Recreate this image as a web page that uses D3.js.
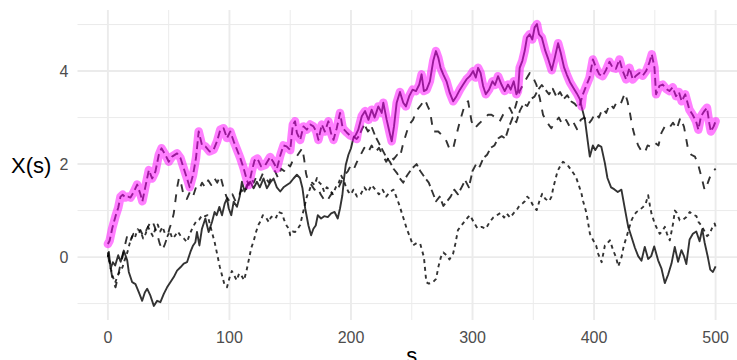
<!DOCTYPE html>
<html>
<head>
<meta charset="utf-8">
<script src="https://cdn.jsdelivr.net/npm/d3@7"></script>
<style>
  body { margin: 0; background: #fff; }
  svg { display: block; font-family: "Liberation Sans", Arial, sans-serif; }
</style>
</head>
<body>
<svg width="737" height="360"></svg>
<script>
/* --------------- Datos: [s, X(s)] --------------- */
const serieA = [ // linea continua
  [0,0.0],[0.8,0.11],[2.2,-0.25],[4.1,-0.11],[6,-0.18],[8.5,0.04],[10.5,-0.1],[13.1,0.14],[15.9,-0.07],[17.2,-0.32],
  [20,-0.54],[22.7,-0.58],[25.5,-0.76],[28.2,-0.94],[30.4,-0.76],[32.3,-0.68],[35,-0.83],[37.8,-1.05],[40.5,-0.94],[43.2,-0.97],
  [46,-0.79],[48.7,-0.65],[51.4,-0.54],[54.2,-0.43],[56.9,-0.29],[59.7,-0.22],[62.4,-0.14],[65.1,-0.11],[67.9,0.11],[70.1,0.25],
  [72,0.32],[73.3,0.54],[75.3,0.25],[77.4,0.61],[80.2,0.83],[82.9,0.54],[85.7,0.76],[87.8,0.97],[89.5,0.9],[91.7,1.08],
  [93.9,0.9],[96.1,1.15],[98,1.26],[99.4,1.05],[101.5,0.9],[103.5,1.19],[106.2,1.08],[108.4,1.3],[110.3,1.62],[112.5,1.41],
  [114.4,1.55],[117.1,1.62],[119.9,1.48],[122.6,1.62],[125,1.5],[128.1,1.69],[130.8,1.48],[133.5,1.6],[136.3,1.69],[139,1.5],
  [141.8,1.41],[144.5,1.5],[147.2,1.55],[150,1.6],[152.7,1.69],[155.5,1.77],[158,1.7],[160.1,1.48],[162.3,1.05],[165,0.68],
  [167.2,0.47],[169.1,0.61],[171,0.68],[172.7,0.9],[175.4,0.83],[178,0.88],[180.9,0.86],[183.7,0.94],[186.5,0.97],[189.1,0.83],
  [191,1.05],[192.9,1.33],[194.3,1.69],[195.7,1.98],[197.9,2.2],[200,2.34],[202,2.56],[204,2.63],[206,2.74],[208.9,3.03],
  [211.6,3.14],[214.4,2.95],[217,3.17],[219.5,3.0],[222.5,3.24],[225.3,3.1],[226.6,3.32],[229.4,2.95],[232.2,2.63],[233.5,2.49],
  [235.4,2.81],[237.6,3.32],[240.3,3.55],[243,3.32],[245.2,3.24],[247.9,3.46],[250.7,3.6],[253.5,3.57],[256.2,3.71],[258.1,3.93],
  [260,3.57],[262.2,3.6],[264.9,3.78],[267.7,4.22],[269.9,4.43],[271.8,4.29],[273.7,4.07],[275.9,3.93],[278.6,3.78],[281.3,3.53],
  [284.1,3.35],[286.8,3.46],[289.6,3.6],[292.3,3.71],[295,3.82],[297.8,3.89],[300.5,4.0],[302.7,3.86],[304.6,4.07],[306.6,3.96],
  [308.7,3.68],[310.9,3.5],[313.6,3.6],[316.4,3.78],[318.5,3.7],[321,3.89],[323.8,3.71],[326.5,3.57],[329.2,3.71],[331.4,3.6],
  [333.9,3.78],[336.1,3.5],[337.4,3.57],[338.8,4.07],[341,4.22],[342.9,4.43],[344.8,4.72],[347,4.79],[349.2,4.68],[351.1,4.94],
  [353,5.01],[354.7,4.79],[357,4.72],[359.7,4.45],[362.4,4.25],[365.2,4.02],[367.8,4.3],[370.4,4.6],[372.5,4.4],[375.3,4.08],
  [377.6,3.92],[380.2,3.76],[383.4,3.62],[385.8,3.52],[388.4,3.39],[389.7,3.24],[392.5,2.95],[395,2.45],[396.5,2.16],[399,2.4],
  [401,2.3],[403.5,2.41],[406,2.37],[408.9,2.02],[411,1.7],[414,1.5],[416.5,1.46],[419.5,1.4],[422.5,1.45],[425.4,1.03],
  [428.1,0.65],[430.8,0.43],[433.6,0.2],[436.3,0.02],[439,-0.08],[441.7,0.22],[444.5,-0.04],[447,0.02],[449.5,0.23],[452.7,-0.07],
  [455.5,-0.25],[458.2,-0.56],[460.9,-0.38],[463.7,-0.14],[466.4,0.22],[469.1,-0.1],[471.9,0.15],[474,0.02],[475.9,-0.15],[478.6,0.38],
  [481.3,0.5],[484.1,0.55],[486.8,0.34],[489,0.6],[490.9,0.32],[493.6,0.0],[495.6,-0.27],[497.8,-0.32],[500,-0.2]
];

const serieB = [ // guiones largos
  [0,0.28],[1.4,0.35],[3.6,0.62],[6.3,0.88],[8.5,1.06],[10.4,1.3],[12.2,1.34],[14.5,1.28],[16.5,1.3],[18.6,1.28],
  [21.3,1.4],[24.1,1.56],[26.8,1.35],[28.4,1.2],[30.9,1.52],[33.7,1.87],[36.4,1.69],[39.1,1.84],[41.9,2.2],[44.1,2.34],
  [47.3,2.2],[50.1,2.05],[52.8,2.16],[56.9,2.23],[59.7,2.13],[62.4,1.91],[65.1,1.69],[67.3,1.5],[70.1,1.77],[72.5,2.13],
  [74.7,2.7],[77.4,2.41],[80.2,2.38],[83.7,2.27],[87,2.31],[89.8,2.49],[92.5,2.74],[95.2,2.77],[98,2.56],[100.7,2.7],
  [103.5,2.49],[106.2,2.31],[108.9,2.13],[111.7,1.91],[114.4,1.65],[116,1.55],[118.5,1.86],[120.7,2.08],[123,2.12],[126,1.95],
  [129.5,1.98],[133.5,2.15],[136,2.05],[139,1.9],[142,2.2],[144.5,2.4],[147,2.38],[150,2.3],[152.2,2.85],[154,2.92],
  [155.5,2.67],[158.2,2.52],[160.9,2.81],[163.7,2.74],[166.5,2.85],[169.1,2.81],[171.5,2.7],[173.2,2.52],[176,2.85],[178.5,2.7],
  [181.4,2.92],[183.5,2.67],[185.6,2.52],[188.3,2.77],[191,3.1],[193.2,2.77],[196.5,2.68],[199,2.62],[202,2.59],[204.7,2.54],
  [207,2.62],[209,2.75],[211,2.85],[214,2.7],[217,2.8],[220,2.6],[223,2.45],[226,2.3],[229,2.15],[232,2.05],
  [235,1.9],[238,1.8],[240,1.7],[243,1.6],[246,1.75],[250,1.9],[254,2.0],[257,1.85],[261,1.7],[264,1.6],
  [267,1.4],[270,1.2],[273,1.3],[276,1.1],[279,1.2],[282,1.3],[285,1.45],[288,1.35],[291,1.5],[294,1.65],
  [297,1.5],[300,1.85],[303,2.0],[306,1.95],[309,2.13],[312,2.2],[315,2.35],[318,2.4],[321,2.55],[324,2.6],
  [327,2.55],[330,2.8],[333,3.0],[336,2.9],[339,3.15],[342,3.3],[345,3.25],[348,3.4],[351,3.45],[354,3.6],
  [357,3.7],[360,3.6],[363,3.5],[366,3.62],[369,3.45],[372,3.55],[375,3.4],[378,3.48],[381,3.35],[384,3.3],
  [386.5,3.22],[388.4,3.28],[390.8,3.5],[393.5,3.68],[396.3,3.86],[399,4.25],[401.7,4.07],[404.3,3.93],[407,3.89],[409.8,4.02],
  [412.7,4.2],[415.4,4.07],[418,4.05],[420.9,4.25],[423.6,4.0],[426.4,3.82],[429.1,4.07],[431.8,3.82],[434.5,3.9],[437.3,3.96],
  [440,3.9],[442.8,4.0],[445.5,4.18],[447.5,4.36],[449.7,4.07],[451,3.5],[453.8,3.68],[456.5,3.71],[459.2,3.62],[462,3.57],
  [464.7,3.65],[467.4,3.46],[469.8,3.55],[472.1,3.35],[475,3.5],[478.4,3.17],[481.1,3.06],[483.9,2.92],[485.8,2.74],[488,3.03],
  [490.7,3.14],[492.9,3.21],[494.8,2.88],[496.1,2.7],[498.4,2.81],[500,2.92]
];

const serieC = [ // guiones
  [0,0.05],[2.2,-0.22],[4,-0.5],[6.3,-0.65],[8,-0.45],[10,-0.2],[12,0.0],[14,0.25],[16,0.47],[18.5,0.35],
  [21,0.5],[24,0.45],[26.8,0.58],[29,0.45],[32,0.6],[34,0.7],[36.4,0.79],[38.5,0.65],[40.5,0.5],[42.5,0.3],
  [44.7,0.15],[46.5,0.25],[48.5,0.4],[50.5,0.6],[52.5,0.75],[54.2,0.94],[55.5,1.2],[57,1.5],[58.5,1.7],[60.5,1.55],
  [62.5,1.3],[65,1.25],[67.5,1.4],[70,1.3],[72.5,1.5],[75,1.45],[77.5,1.6],[80,1.5],[82.5,1.65],[85,1.55],
  [87.5,1.7],[90,1.6],[92.5,1.75],[95,1.5],[97.5,1.3],[100,1.2],[102.5,1.35],[105,1.2],[107.5,1.3],[110,1.45],
  [112.5,1.35],[115,1.55],[117.5,1.7],[120,1.6],[122.5,1.75],[125,1.65],[127.5,1.8],[130,1.7],[132.5,1.6],[135,1.75],
  [137.5,1.85],[140,1.7],[142.5,1.9],[145,1.85],[147.5,2.0],[150,1.95],[152.5,2.1],[155,2.15],[157.5,2.25],[160,2.34],
  [161.5,2.1],[163,1.8],[165,1.6],[167.5,1.55],[170,1.45],[172.5,1.5],[175,1.35],[177.5,1.25],[180,1.19],[182.5,1.3],
  [185,1.4],[187.5,1.45],[190,1.51],[192.5,1.65],[195,1.77],[197.5,1.85],[200,1.98],[202.5,1.9],[205,2.05],[208,2.2],
  [211,2.35],[214,2.25],[217,2.4],[220,2.25],[223,2.35],[226,2.2],[229,2.05],[232,2.2],[235,2.1],[238,2.2],
  [240.3,2.15],[243,2.45],[246,2.7],[248,2.85],[251,2.95],[254,3.15],[257,3.25],[260.8,3.39],[263,3.25],[265,3.14],
  [267.7,2.7],[271.8,2.7],[275.9,2.59],[278.6,2.49],[281.3,2.31],[284.1,2.34],[286.8,2.63],[289.6,2.92],[293.7,3.28],[296.4,3.35],
  [299.2,2.92],[301.9,2.77],[304.6,2.85],[307.4,2.92],[310.1,2.99],[312.8,3.06],[315.6,3.06],[319.7,2.99],[322.4,2.92],[325.1,3.06],
  [327.9,3.14],[330.6,3.21],[333.3,3.06],[336,3.3],[338.8,3.57],[343,3.78],[347.1,3.96],[349.9,3.86],[352.5,3.71],[355.3,3.42],
  [358,3.06],[360.7,2.92],[364.8,2.77],[368,2.9],[371,3.0],[374,2.85],[377,2.95],[380,2.8],[383,2.9],[386,2.75],
  [389,2.95],[392,3.0],[395,2.85],[398,2.95],[401,3.1],[404,3.0],[407,3.2],[410,3.1],[413,3.3],[416,3.2],
  [419,3.35],[422,3.3],[425.4,3.53],[427.5,3.35],[429.5,3.1],[431.5,2.8],[433.5,2.6],[436.3,2.4],[438.5,2.3],[441.7,2.24],
  [444,2.4],[447,2.37],[450,2.46],[453,2.4],[455.4,2.67],[458,2.8],[461,2.75],[465,2.89],[468,2.75],[471,3.0],
  [474,2.8],[477,2.37],[480,2.2],[483,2.16],[485.5,2.0],[488.3,1.73],[491,1.44],[493.5,1.59],[496.4,1.8],[500,1.9]
];

const serieD = [ // guiones cortos
  [0,0.1],[2,-0.2],[4,-0.42],[6,-0.55],[8,-0.4],[10,-0.3],[12,-0.22],[14,-0.05],[16,0.1],[18,0.3],
  [20,0.45],[22,0.4],[24.5,0.6],[27,0.55],[29,0.4],[31,0.5],[33,0.65],[35,0.55],[37,0.45],[39,0.6],
  [41,0.7],[43,0.55],[45,0.65],[47,0.5],[49,0.45],[51,0.55],[53,0.4],[55,0.45],[57.5,0.55],[60,0.45],
  [62.5,0.4],[65,0.32],[67.5,0.5],[70,0.65],[72.5,0.76],[75,0.8],[77.5,0.9],[80,0.88],[82,0.9],[84,0.7],
  [86,0.5],[88,0.3],[90,0.05],[92,-0.2],[94,-0.4],[96,-0.6],[98,-0.65],[100,-0.45],[102,-0.3],[104,-0.4],
  [106,-0.5],[108,-0.35],[110,-0.4],[112,-0.5],[114,-0.3],[116,-0.05],[118,0.2],[120,0.35],[122,0.55],[124,0.7],
  [125.3,0.76],[127.5,0.9],[130,0.85],[132.5,0.75],[134,0.85],[136.3,0.9],[138.5,0.85],[140,0.97],[143.2,0.94],[145,0.8],
  [147,0.68],[149,0.6],[150,0.47],[152,0.55],[154.1,0.54],[156,0.6],[158.2,0.69],[161,1.01],[163.7,1.3],[166,1.45],
  [168,1.6],[170,1.55],[172,1.7],[174,1.6],[176,1.55],[178,1.4],[180,1.5],[182.5,1.45],[185,1.35],[187.5,1.5],
  [190,1.6],[192,1.75],[194,1.65],[196,1.5],[198,1.4],[200,1.35],[202,1.45],[205,1.3],[208,1.35],[211,1.5],
  [214,1.4],[217,1.55],[220,1.45],[223,1.35],[226,1.45],[229,1.3],[232,1.4],[235,1.45],[238,1.25],[240,1.1],
  [243,0.85],[246,0.6],[249,0.4],[251,0.25],[254,0.3],[257,0.28],[260,0.0],[262,-0.54],[264,-0.57],[267,-0.55],
  [270,-0.47],[272,-0.2],[274,0.0],[276,0.1],[278.6,0.04],[281,-0.05],[284,0.07],[286,0.3],[288,0.58],[290,0.65],
  [293,0.75],[296,0.85],[298,0.9],[301,0.75],[304,0.62],[307.5,0.65],[311,0.61],[314,0.75],[317,0.85],[320,0.9],
  [323,0.95],[326,0.85],[328,0.94],[331,0.85],[334,0.95],[336,1.0],[338,1.08],[341,1.15],[343,1.2],[345,1.3],
  [347,1.25],[350,1.1],[352.8,1.01],[355,1.2],[357.3,1.36],[360,1.25],[363,1.2],[365,1.3],[366.5,1.5],[368,1.65],
  [370,1.85],[372,1.95],[374.4,2.05],[377,2.0],[379,1.95],[382,1.84],[385,1.73],[388,1.5],[389.7,1.36],[391,1.2],
  [393.8,0.94],[396.6,0.5],[399.3,0.36],[401.7,0.25],[403.4,0.07],[406.2,-0.11],[408.9,0.25],[411,0.3],[413,0.36],[415.8,0.14],
  [418,0.0],[419.9,-0.2],[422.6,0.0],[424.5,0.25],[426.7,0.43],[428.5,0.6],[430.8,0.79],[432.8,0.9],[434.9,0.97],[437,1.0],
  [440.4,1.08],[442.5,1.15],[444.5,1.33],[446,1.1],[447.2,0.94],[449.9,0.72],[452,0.6],[454,0.5],[456,0.55],[458.2,0.65],
  [460,0.5],[462.3,0.36],[465,0.72],[466.5,1.0],[468,0.95],[470.5,0.79],[473,0.8],[476,0.86],[478.7,0.97],[481,0.92],
  [484.2,0.88],[486,0.75],[488.3,0.68],[491,0.55],[493,0.45],[495.1,0.5],[497,0.62],[499.2,0.72],[500,0.65]
];

// tramos de la serie que va arriba (resaltada en magenta)
const tramosMax = [["B", 0, 204.7], ["A", 204.7, 389.7], ["B", 389.7, 500]];

const xTicks = [0, 100, 200, 300, 400, 500];
const xMinor = [50, 150, 250, 350, 450];
const yTicks = [0, 2, 4];
const yMinor = [-1, 1, 3, 5];

/* --------------- Grafica --------------- */
const series = { A: serieA, B: serieB, C: serieC, D: serieD };
const tipos = { A: null, B: "7.8,3.9", C: "7.8,7.8", D: "3.9,3.9" };

const W = 737, H = 360;
const panel = { left: 77.5, right: 746, top: 10, bottom: 320 };

const svg = d3.select("svg");

const x = d3.scaleLinear().domain([-25, 525]).range([panel.left, panel.right]);

const valores = [].concat(...Object.values(series)).map(d => d[1]);
const [lo, hi] = d3.extent(valores);
const pad = (hi - lo) * 0.05;
const y = d3.scaleLinear().domain([lo - pad, hi + pad]).range([panel.bottom, panel.top]);

const grid = svg.append("g");

// lineas menores
grid.selectAll(".vmin").data(xMinor).enter().append("line")
    .attr("x1", d => x(d)).attr("x2", d => x(d))
    .attr("y1", panel.top).attr("y2", panel.bottom)
    .attr("stroke", "#ebebeb").attr("stroke-width", 1);
grid.selectAll(".hmin").data(yMinor).enter().append("line")
    .attr("x1", panel.left).attr("x2", W)
    .attr("y1", d => y(d)).attr("y2", d => y(d))
    .attr("stroke", "#ebebeb").attr("stroke-width", 1);

// lineas mayores
grid.selectAll(".vmaj").data(xTicks).enter().append("line")
    .attr("x1", d => x(d)).attr("x2", d => x(d))
    .attr("y1", panel.top).attr("y2", panel.bottom)
    .attr("stroke", "#ebebeb").attr("stroke-width", 1.9);
grid.selectAll(".hmaj").data(yTicks).enter().append("line")
    .attr("x1", panel.left).attr("x2", W)
    .attr("y1", d => y(d)).attr("y2", d => y(d))
    .attr("stroke", "#ebebeb").attr("stroke-width", 1.9);

const linea = d3.line().x(d => x(d[0])).y(d => y(d[1]));

// las cuatro trayectorias
svg.append("g").selectAll("path")
    .data(Object.keys(series))
    .enter().append("path")
    .attr("d", k => linea(series[k]))
    .attr("fill", "none")
    .attr("stroke", "#000")
    .attr("stroke-opacity", 0.8)
    .attr("stroke-width", 1.9)
    .attr("stroke-linejoin", "round")
    .attr("stroke-dasharray", k => tipos[k]);

// camino maximo, resaltado encima
let caminoMax = [];
tramosMax.forEach(([k, desde, hasta], i) => {
    const trozo = series[k].filter(d => (i === 0 ? d[0] >= desde : d[0] > desde) && d[0] <= hasta);
    caminoMax = caminoMax.concat(trozo);
});

svg.append("path")
    .attr("d", linea(caminoMax))
    .attr("fill", "none")
    .attr("stroke", "#ff00ff")
    .attr("stroke-opacity", 0.5)
    .attr("stroke-width", 8.5)
    .attr("stroke-linejoin", "round")
    .attr("stroke-linecap", "round");

/* --------------- Ejes --------------- */
svg.append("g").selectAll("text")
    .data(xTicks).enter().append("text")
    .attr("x", d => x(d)).attr("y", 343)
    .attr("text-anchor", "middle")
    .attr("font-size", 16).attr("fill", "#4d4d4d")
    .text(d => d);

svg.append("g").selectAll("text")
    .data(yTicks).enter().append("text")
    .attr("x", 68.5).attr("y", d => y(d))
    .attr("dy", "0.36em")
    .attr("text-anchor", "end")
    .attr("font-size", 16).attr("fill", "#4d4d4d")
    .text(d => d);

svg.append("text")
    .attr("x", 11).attr("y", (panel.top + panel.bottom) / 2)
    .attr("dy", "0.36em")
    .attr("font-size", 22).attr("fill", "#000")
    .text("X(s)");

svg.append("text")
    .attr("x", (panel.left + panel.right) / 2).attr("y", 363)
    .attr("text-anchor", "middle")
    .attr("font-size", 22).attr("fill", "#000")
    .text("s");
</script>
</body>
</html>
